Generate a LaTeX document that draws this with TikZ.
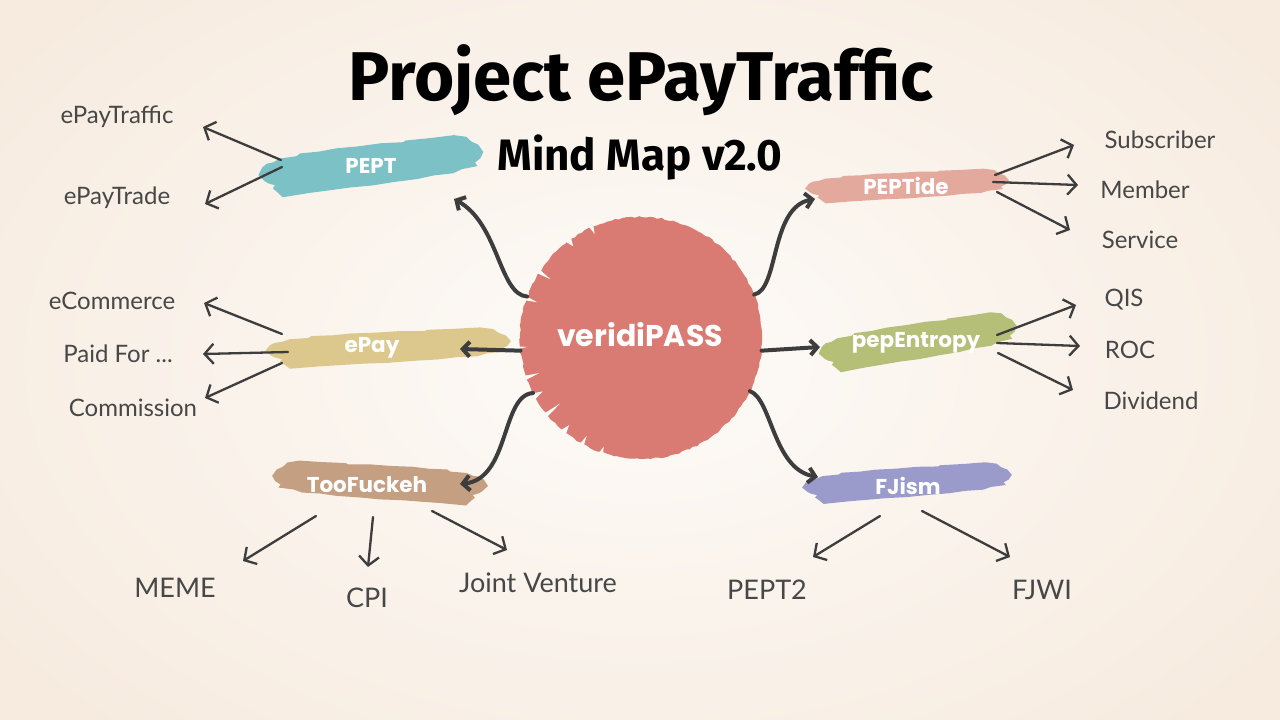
\documentclass[tikz,border=0pt]{standalone}
\usepackage{fontspec}
\usetikzlibrary{arrows.meta,decorations.pathmorphing,calc}
\newfontfamily\titlefont{Fira Sans}
\newfontfamily\brushfont{Poppins}
\newfontfamily\leaffont{Lato}
\definecolor{ink}{HTML}{3D3D3D}
\definecolor{leafc}{HTML}{474747}
\definecolor{hubc}{HTML}{D97B72}
\definecolor{peptc}{HTML}{7BC1C5}
\definecolor{tidec}{HTML}{E3A99C}
\definecolor{epayc}{HTML}{DCC88D}
\definecolor{entc}{HTML}{B5BF78}
\definecolor{tooc}{HTML}{C49F82}
\definecolor{fjc}{HTML}{9B9BCB}
\definecolor{bgin}{HTML}{FDFBF8}
\definecolor{bgout}{HTML}{F7EBDF}
\tikzset{
  leaf/.style={font=\leaffont\fontsize{24}{28}\selectfont, text=leafc, inner sep=0pt},
  bigleaf/.style={leaf, font=\leaffont\fontsize{27}{30}\selectfont},
  blabel/.style={font=\brushfont\bfseries\fontsize{21.5}{24}\selectfont, text=white, inner sep=0pt},
  thinarrow/.style={draw=ink, line width=2.3pt, line cap=round, -{Straight Barb[length=9pt,width=20pt]}},
  thickarrow/.style={draw=ink, line width=4pt, line cap=round, -{Straight Barb[length=7pt,width=15pt]}},
}
\newcommand\brushshape{plot coordinates {(-1.00,0.05) (-0.96,-0.25) (-0.92,-0.38) (-0.86,-0.42) (-0.80,-0.55) (-0.65,-0.60) (-0.62,-0.70) (-0.45,-0.72) (-0.30,-0.80) (-0.10,-0.82) (0.10,-0.88) (0.30,-0.86) (0.32,-0.92) (0.55,-0.95) (0.75,-1.00) (0.86,-0.90) (0.90,-0.70) (0.96,-0.55) (1.00,-0.25) (0.97,0.00) (0.92,0.15) (0.94,0.30) (0.80,0.38) (0.72,0.52) (0.55,0.55) (0.40,0.65) (0.20,0.70) (0.00,0.78) (-0.20,0.80) (-0.40,0.86) (-0.55,0.90) (-0.70,0.96) (-0.80,1.00) (-0.84,0.80) (-0.88,0.62) (-0.86,0.50) (-0.92,0.40) (-0.95,0.30)} -- cycle}
% #1 colour, #2 cx, #3 cy, #4 half width (negative = mirrored), #5 half height, #6 rotation
\newcommand\brushstroke[6]{%
  \begin{scope}[shift={(#2,#3)},rotate=#6,xscale=#4,yscale=#5]
    \fill[#1] \brushshape;
  \end{scope}}
\begin{document}
\begin{tikzpicture}[x=1pt,y=-1pt]
\useasboundingbox (0,0) rectangle (1280,720);
\shade[inner color=bgin, outer color=bgout] (-150,-150) rectangle (1430,870);

% title
\node[font=\titlefont\bfseries\fontsize{69}{80}\selectfont, text=black, inner sep=0pt] (title) at (641,80) {Project ePayTraffic};
\node[font=\titlefont\bfseries\fontsize{44}{50}\selectfont, text=black, inner sep=0pt] (subtitle) at (640,158) {Mind Map v2.0};

% hub
\pgfmathsetseed{7}
\coordinate (hc) at (641,338);
\fill[hubc, decorate, decoration={random steps, segment length=4pt, amplitude=0.8pt}] (hc) circle[radius=121];
\foreach \a/\b/\r in {150/153/112, 160/162/108, 128/131/113, 198/200/110, 232/235/114, 118/120/112, 175/176/114, 140/142/104, 212/214/108, 245/247/114, 108/110/115}{
  \fill[bgin] ($(hc)+(\a:122)$) -- ($(hc)+(\b:122)$) -- ($(hc)+({(\a+\b)/2}:\r)$) -- cycle;
}
\node[circle, minimum size=242pt, inner sep=0pt] (hub) at (hc) {};
\node[font=\brushfont\bfseries\fontsize{30}{34}\selectfont, text=white, inner sep=0pt] (hublabel) at (640,335) {veridiPASS};

% brush strokes
\brushstroke{peptc}{371}{166}{113}{25}{4}
\brushstroke{tidec}{907}{186}{102}{16}{1}
\brushstroke{epayc}{388}{348}{123}{19}{1}
\brushstroke{entc}{918}{342}{100}{22}{6}
\brushstroke{tooc}{380}{483}{-108}{21}{-1}
\brushstroke{fjc}{907}{483}{105}{18}{2}

\node[blabel] (pept) at (371,166) {PEPT};
\node[blabel] (peptide) at (906,186) {PEPTide};
\node[blabel] (epay) at (372,348) {ePay};
\node[blabel] (pepent) at (916,343) {pepEntropy};
\node[blabel] (toof) at (367,485) {TooFuckeh};
\node[blabel] (fjism) at (908,486) {FJism};

% leaves
\node[leaf] (l1) at (117,117) {ePayTraffic};
\node[leaf] (l2) at (117,198) {ePayTrade};
\node[leaf] (l3) at (112,301) {eCommerce};
\node[leaf] (l4) at (118,354) {Paid For ...};
\node[leaf] (l5) at (133,408) {Commission};
\node[bigleaf] (l6) at (175,588) {MEME};
\node[bigleaf] (l7) at (367,598) {CPI};
\node[bigleaf] (l8) at (538,583) {Joint Venture};
\node[bigleaf] (l9) at (767,590) {PEPT2};
\node[bigleaf] (l10) at (1042,590) {FJWI};
\node[leaf] (l11) at (1160,140) {Subscriber};
\node[leaf] (l12) at (1145,190) {Member};
\node[leaf] (l13) at (1140,240) {Service};
\node[leaf] (l14) at (1124,300) {QIS};
\node[leaf] (l15) at (1130,350) {ROC};
\node[leaf] (l16) at (1151,401) {Dividend};

% coordinates of arrow ends
\coordinate (ptA) at (203,127); \coordinate (psA) at (281,160);
\coordinate (ptB) at (205,204); \coordinate (psB) at (282,167);
\coordinate (eA) at (204,303); \coordinate (esA) at (282,334);
\coordinate (eB) at (203,354); \coordinate (esB) at (288,352);
\coordinate (eC) at (205,398); \coordinate (esC) at (282,363);
\coordinate (tA) at (243,561); \coordinate (tsA) at (316,516);
\coordinate (tB) at (368,567); \coordinate (tsB) at (373,517);
\coordinate (tC) at (507,550); \coordinate (tsC) at (432,511);
\coordinate (fA) at (813,557); \coordinate (fsA) at (880,516);
\coordinate (fB) at (1010,557); \coordinate (fsB) at (922,511);
\coordinate (dA) at (1074,145); \coordinate (dsA) at (995,175);
\coordinate (dB) at (1078,185); \coordinate (dsB) at (993,182);
\coordinate (dC) at (1070,230); \coordinate (dsC) at (997,192);
\coordinate (nA) at (1076,305); \coordinate (nsA) at (997,335);
\coordinate (nB) at (1080,346); \coordinate (nsB) at (997,343);
\coordinate (nC) at (1073,390); \coordinate (nsC) at (998,353);
\coordinate (hPEPT) at (454,199);
\coordinate (hTide) at (815,199);
\coordinate (hEpay) at (460,349);
\coordinate (hEnt) at (820,347);
\coordinate (hToo) at (460,484);
\coordinate (hFJ) at (818,477);

% thin arrows
\foreach \s/\e in {psA/ptA, psB/ptB, esA/eA, esB/eB, esC/eC, tsA/tA, tsB/tB, tsC/tC, fsA/fA, fsB/fB, dsA/dA, dsB/dB, dsC/dC, nsA/nA, nsB/nB, nsC/nC}{
  \draw[thinarrow] (\s) -- (\e);
}

% thick connectors from hub
\draw[thickarrow] (hub.160) .. controls +(-28,-2) and +(45,25) .. (hPEPT);
\draw[thickarrow] (hub.21) .. controls +(25,-5) and +(-45,8) .. (hTide);
\draw[thickarrow] (hub.186) -- (hEpay);
\draw[thickarrow] (hub.354) -- (hEnt);
\draw[thickarrow] (hub.207) .. controls +(-32,2) and +(50,-5) .. (hToo);
\draw[thickarrow] (hub.334) .. controls +(22,8) and +(-45,-8) .. (hFJ);
\end{tikzpicture}
\end{document}
